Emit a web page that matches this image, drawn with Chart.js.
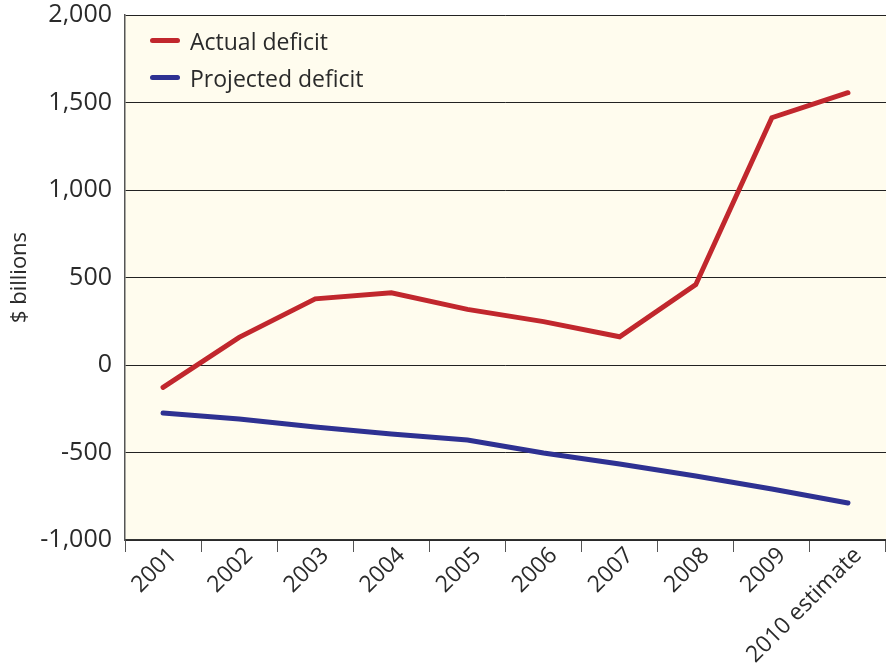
<!DOCTYPE html>
<html>
<head>
<meta charset="utf-8">
<script src="https://cdn.jsdelivr.net/npm/chart.js@4.4.1/dist/chart.umd.min.js"></script>
<style>
  html, body { margin: 0; padding: 0; background: #fff; }
  #wrap { position: relative; width: 886px; height: 670px; }
  #legend { position: absolute; left: 150px; top: 22px; font-family: "Open Sans", sans-serif; font-size: 23px; color: #2a2a2a; }
  .item { display: flex; align-items: center; height: 37px; }
  .swatch { width: 30px; height: 5px; border-radius: 3px; margin-right: 10px; }
</style>
</head>
<body>
<div id="wrap">
  <canvas id="deficitChart" width="886" height="670"></canvas>
  <div id="legend"></div>
</div>
<script>
const years = ["2001", "2002", "2003", "2004", "2005", "2006", "2007", "2008", "2009", "2010 estimate"];
const actualDeficit = [-128, 158, 378, 413, 318, 248, 161, 459, 1413, 1556];
const projectedDeficit = [-274, -309, -354, -394, -429, -503, -566, -634, -709, -789];
const yTicks = [-1000, -500, 0, 500, 1000, 1500, 2000];

const RED = "#c1272d";
const BLUE = "#2e3192";

// paint the cream plot background
const plotBg = {
    id: "plotBg",
    beforeDraw(chart) {
        const a = chart.chartArea;
        const ctx = chart.ctx;
        ctx.save();
        ctx.fillStyle = "#fffcee";
        ctx.fillRect(a.left, a.top, a.right - a.left, a.bottom - a.top);
        ctx.restore();
    }
};

const ctx = document.getElementById("deficitChart").getContext("2d");
const chart = new Chart(ctx, {
    type: "line",
    data: {
        labels: years,
        datasets: [
            {
                label: "Actual deficit",
                data: actualDeficit,
                borderColor: RED,
                backgroundColor: RED,
                borderWidth: 5,
                pointRadius: 0,
                tension: 0,
                borderCapStyle: "round"
            },
            {
                label: "Projected deficit",
                data: projectedDeficit,
                borderColor: BLUE,
                backgroundColor: BLUE,
                borderWidth: 5,
                pointRadius: 0,
                tension: 0,
                borderCapStyle: "round"
            }
        ]
    },
    options: {
        responsive: false,
        animation: false,
        layout: { padding: { top: 15, right: -3, left: 0, bottom: 0 } },
        plugins: {
            legend: { display: false },
            tooltip: { enabled: false }
        },
        scales: {
            x: {
                offset: true,
                border: { display: true, color: "#333", width: 1.5 },
                grid: { display: true, offset: true, drawOnChartArea: false, drawTicks: true, tickLength: 12, color: "#555" },
                ticks: {
                    maxRotation: 45, minRotation: 45, autoSkip: false,
                    color: "#2a2a2a",
                    font: { family: "'Open Sans', sans-serif", size: 23 },
                    padding: -10,
                    labelOffset: 10
                },
                afterFit: s => { s.height = 130; }
            },
            y: {
                min: -1000, max: 2000,
                afterBuildTicks: s => { s.ticks = yTicks.map(v => ({ value: v })); },
                border: { display: true, color: "#555", width: 1.5 },
                grid: { color: "#222", lineWidth: 1, drawTicks: false },
                ticks: {
                    color: "#2a2a2a",
                    padding: 13,
                    font: { family: "'Open Sans', sans-serif", size: 25 },
                    callback: v => v.toLocaleString("en-US")
                },
                title: {
                    display: true, text: "$ billions", color: "#2a2a2a",
                    font: { family: "'Open Sans', sans-serif", size: 22 },
                    padding: { top: 7, bottom: 0 }
                },
                afterFit: s => { s.width = 125; s.paddingTop = 0; s.paddingBottom = 0; }
            }
        }
    },
    plugins: [plotBg]
});

// legend inside the plot, built from the datasets
const legend = document.getElementById("legend");
chart.data.datasets.forEach(ds => {
    const item = document.createElement("div");
    item.className = "item";
    const sw = document.createElement("span");
    sw.className = "swatch";
    sw.style.background = ds.borderColor;
    const txt = document.createElement("span");
    txt.textContent = ds.label;
    item.appendChild(sw);
    item.appendChild(txt);
    legend.appendChild(item);
});
</script>
</body>
</html>
